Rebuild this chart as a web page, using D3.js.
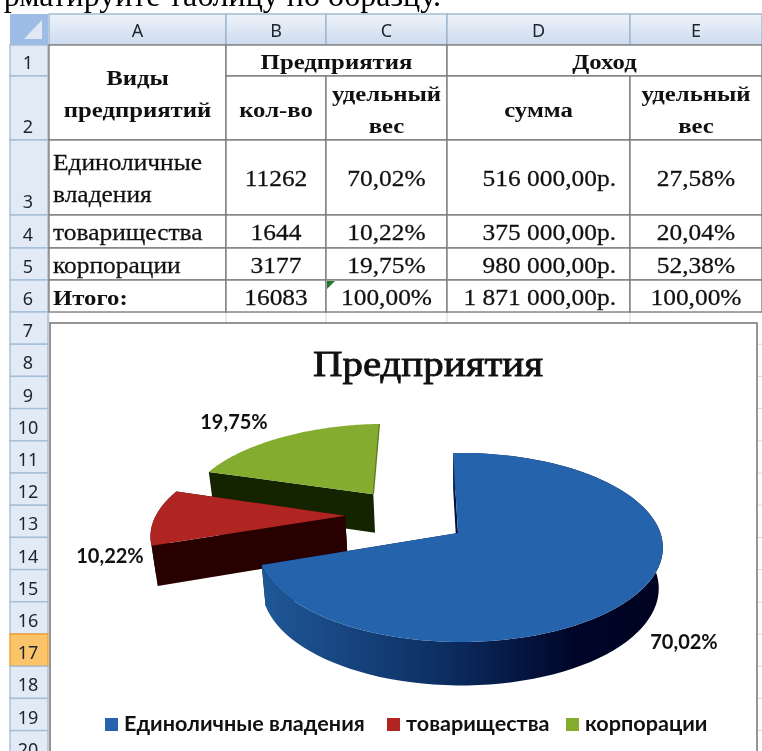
<!DOCTYPE html>
<html>
<head>
<meta charset="utf-8">
<style>
  html, body { margin: 0; padding: 0; background: #fff; overflow: hidden; }
  svg { display: block; filter: blur(0.4px); }
</style>
</head>
<body>
<div id="chart"></div>
<script src="https://cdnjs.cloudflare.com/ajax/libs/d3/7.8.5/d3.min.js"></script>
<script>
// table content
var columns = ["A", "B", "C", "D", "E"];
var rowNumbers = [1, 2, 3, 4, 5, 6, 7, 8, 9, 10, 11, 12, 13, 14, 15, 16, 17, 18, 19, 20];
var kinds = ["Единоличные владения", "товарищества", "корпорации"];
var counts = [11262, 1644, 3177];
var countShares = ["70,02%", "10,22%", "19,75%"];
var incomes = ["516 000,00р.", "375 000,00р.", "980 000,00р."];
var incomeShares = ["27,58%", "20,04%", "52,38%"];
var totals = ["Итого:", "16083", "100,00%", "1 871 000,00р.", "100,00%"];
var chartTitle = "Предприятия";
var colors = ["#2563ad", "#b02521", "#84ad30"];
var wallColors = ["#0d2f62", "#280000", "#152400"];

var width = 762, height = 751;
var serif = "'Liberation Serif', serif";
var headerFont = "'Noto Sans', sans-serif";
var chartFont = "Lato, 'Open Sans', sans-serif";

var svg = d3.select("#chart").append("svg")
    .attr("width", width)
    .attr("height", height);

var defs = svg.append("defs");

// heading gradient for column letters
var headGrad = defs.append("linearGradient").attr("id", "headGrad")
    .attr("x1", 0).attr("y1", 0).attr("x2", 0).attr("y2", 1);
headGrad.append("stop").attr("offset", "0%").attr("stop-color", "#eef3fa");
headGrad.append("stop").attr("offset", "100%").attr("stop-color", "#cddbee");

// outer wall of the big slice goes dark from left to right
var wallGrad = defs.append("linearGradient").attr("id", "wallGrad")
    .attr("gradientUnits", "userSpaceOnUse")
    .attr("x1", 265).attr("y1", 0).attr("x2", 663).attr("y2", 0);
wallGrad.append("stop").attr("offset", "0%").attr("stop-color", "#1f5796");
wallGrad.append("stop").attr("offset", "45%").attr("stop-color", "#0c2e62");
wallGrad.append("stop").attr("offset", "78%").attr("stop-color", "#000528");
wallGrad.append("stop").attr("offset", "100%").attr("stop-color", "#000320");

// text cut by the top edge of the screenshot
svg.append("text")
    .attr("x", 441).attr("y", 6)
    .attr("text-anchor", "end")
    .style("font-family", serif)
    .style("font-size", "32px")
    .text("рматируйте таблицу по образцу.");

// ----------------
// Sheet grid
// ----------------
var colX = d3.scaleOrdinal().domain(columns).range([49, 226, 326, 447, 630]);
var colEnd = d3.scaleOrdinal().domain(columns).range([226, 326, 447, 630, 762]);
var rowTops = [45, 76, 140, 215, 248, 280];
var rowY = d3.scaleLinear().domain([7, 20]).range([312, 312 + 32.2 * 13]);
function rowTop(n) { return n <= 6 ? rowTops[n - 1] : rowY(n); }
function rowBottom(n) { return n < 6 ? rowTops[n] : (n === 6 ? 312 : rowY(n + 1)); }

var grid = svg.append("g");

// faint gridlines in the empty rows
columns.forEach(function(c) {
    grid.append("line")
        .attr("x1", colX(c)).attr("x2", colX(c))
        .attr("y1", 312).attr("y2", 324)
        .attr("stroke", "#d0d7e5");
});
rowNumbers.filter(function(n) { return n >= 7; }).forEach(function(n) {
    grid.append("line")
        .attr("x1", 758).attr("x2", 762)
        .attr("y1", rowTop(n)).attr("y2", rowTop(n))
        .attr("stroke", "#d0d7e5");
});

// column letters
grid.append("rect").attr("x", 10).attr("y", 14).attr("width", 38).attr("height", 31)
    .attr("fill", "#9dbde6");
grid.append("path").attr("d", "M42 20L42 39L24 39Z").attr("fill", "#dfe8f4");

var colHeads = grid.selectAll(".colhead").data(columns).enter().append("g");
colHeads.append("rect")
    .attr("x", function(d) { return colX(d); })
    .attr("y", 14)
    .attr("width", function(d) { return colEnd(d) - colX(d); })
    .attr("height", 31)
    .attr("fill", "url(#headGrad)")
    .attr("stroke", "#9eb6ce")
    .attr("stroke-width", 1.4);
colHeads.append("text")
    .attr("x", function(d) { return (colX(d) + colEnd(d)) / 2; })
    .attr("y", 37)
    .attr("text-anchor", "middle")
    .style("font-family", headerFont)
    .style("font-size", "18px")
    .attr("fill", "#1c2430")
    .text(function(d) { return d; });

// row numbers
var rowHeads = grid.selectAll(".rowhead").data(rowNumbers).enter().append("g");
rowHeads.append("rect")
    .attr("x", 10)
    .attr("y", rowTop)
    .attr("width", 38)
    .attr("height", function(d) { return rowBottom(d) - rowTop(d); })
    .attr("fill", function(d) { return d === 17 ? "#fbc46a" : "#e2eaf6"; })
    .attr("stroke", function(d) { return d === 17 ? "#f0a030" : "#a5bdd6"; })
    .attr("stroke-width", 1.4);
rowHeads.append("text")
    .attr("x", 28)
    .attr("y", function(d) { return rowBottom(d) - 7; })
    .attr("text-anchor", "middle")
    .style("font-family", headerFont)
    .style("font-size", "18px")
    .attr("fill", "#1c2430")
    .text(function(d) { return d; });

// ----------------
// Table cells
// ----------------
var headerCells = [
    {c0: "A", c1: "A", r0: 1, r1: 2, lines: ["Виды", "предприятий"]},
    {c0: "B", c1: "C", r0: 1, r1: 1, lines: ["Предприятия"]},
    {c0: "D", c1: "E", r0: 1, r1: 1, lines: ["Доход"]},
    {c0: "B", c1: "B", r0: 2, r1: 2, lines: ["кол-во"]},
    {c0: "C", c1: "C", r0: 2, r1: 2, lines: ["удельный", "вес"]},
    {c0: "D", c1: "D", r0: 2, r1: 2, lines: ["сумма"]},
    {c0: "E", c1: "E", r0: 2, r1: 2, lines: ["удельный", "вес"]}
];

var cells = [];
headerCells.forEach(function(h) {
    cells.push({c0: h.c0, c1: h.c1, r0: h.r0, r1: h.r1, lines: h.lines, bold: true, anchor: "middle"});
});
kinds.forEach(function(k, i) {
    var r = i + 3;
    var lines = i === 0 ? k.split(" ") : [k];
    cells.push({c0: "A", c1: "A", r0: r, r1: r, lines: lines, anchor: "start"});
    cells.push({c0: "B", c1: "B", r0: r, r1: r, lines: [String(counts[i])], anchor: "middle"});
    cells.push({c0: "C", c1: "C", r0: r, r1: r, lines: [countShares[i]], anchor: "middle"});
    cells.push({c0: "D", c1: "D", r0: r, r1: r, lines: [incomes[i]], anchor: "end"});
    cells.push({c0: "E", c1: "E", r0: r, r1: r, lines: [incomeShares[i]], anchor: "middle"});
});
columns.forEach(function(c, i) {
    cells.push({
        c0: c, c1: c, r0: 6, r1: 6, lines: [totals[i]],
        bold: i === 0,
        anchor: i === 0 ? "start" : (c === "D" ? "end" : "middle")
    });
});

var lineGap = 32;
var cellGroups = svg.append("g").selectAll("g").data(cells).enter().append("g");
cellGroups.append("rect")
    .attr("x", function(d) { return colX(d.c0); })
    .attr("y", function(d) { return rowTop(d.r0); })
    .attr("width", function(d) { return colEnd(d.c1) - colX(d.c0); })
    .attr("height", function(d) { return rowBottom(d.r1) - rowTop(d.r0); })
    .attr("fill", "#fff")
    .attr("stroke", "#7f7f7f")
    .attr("stroke-width", 1.4);
cellGroups.each(function(d) {
    var x0 = colX(d.c0), x1 = colEnd(d.c1);
    var x = d.anchor === "start" ? x0 + 4 : (d.anchor === "end" ? x1 - 14 : (x0 + x1) / 2);
    var midY = (rowTop(d.r0) + rowBottom(d.r1)) / 2;
    // the screenshot is stretched sideways, so the cell text is too
    d3.select(this).selectAll("text").data(d.lines).enter().append("text")
        .attr("transform", function(t, i) {
            var y = midY + 8.5 + (i - (d.lines.length - 1) / 2) * lineGap;
            return "translate(" + x + "," + y + ") scale(" + (d.bold ? 1.18 : 1.13) + ",1)";
        })
        .attr("text-anchor", d.anchor)
        .style("font-family", serif)
        .style("font-size", d.bold ? "21px" : "22.5px")
        .style("font-weight", d.bold ? "bold" : "normal")
        .attr("fill", "#111")
        .attr("stroke", "#111")
        .attr("stroke-width", d.bold ? 0 : 0.25)
        .text(function(t) { return t; });
});

// green corner mark in C6
svg.append("path")
    .attr("d", d3.line()([[327, 281], [335, 281], [327, 289]]) + "Z")
    .attr("fill", "#1f7a2a");

// ----------------
// Chart area
// ----------------
svg.append("rect")
    .attr("x", 50).attr("y", 323)
    .attr("width", 707).attr("height", 450)
    .attr("fill", "#fff")
    .attr("stroke", "#8a8a8a")
    .attr("stroke-width", 1.8);

svg.append("text")
    .attr("transform", "translate(428,376) scale(1.17,1)")
    .attr("text-anchor", "middle")
    .style("font-family", serif)
    .style("font-size", "35px")
    .attr("fill", "#111")
    .attr("stroke", "#111")
    .attr("stroke-width", 0.8)
    .text(chartTitle);

// project a point of the pie plane (unit disc, v towards the viewer) on the screen
var cx = 458, cy = 533, rx = 200, ry = 92.3, persp = 0.153, perspX = 0.012, thickness = 40;
function project(u, v) {
    var w = 1 - persp * v - perspX * u;
    return [cx + rx * u / w, cy + ry * v / w];
}
function projectBottom(u, v) {
    var w = 1 - persp * v - perspX * u;
    var p = project(u, v);
    return [cx + (p[0] - cx) * 0.98, p[1] + thickness / Math.sqrt(w)];
}

// how far each slice is pulled out, in the units of the disc
var explode = [[0, 0], [-0.585, -0.195], [-0.455, -0.452]];

var pie = d3.pie().sort(null)
    .startAngle(-1.6 * Math.PI / 180)
    .endAngle((360 - 1.6) * Math.PI / 180);
var slices = pie(counts).map(function(s, i) {
    var edge = [], a;
    for (a = 0; a <= 90; a++) {
        var t = s.startAngle + (s.endAngle - s.startAngle) * a / 90;
        edge.push([explode[i][0] + Math.sin(t), explode[i][1] - Math.cos(t)]);
    }
    return {index: i, apex: explode[i], edge: edge};
});

var line = d3.line();
function onTop(q) { return project(q[0], q[1]); }
function onBottom(q) { return projectBottom(q[0], q[1]); }

// back slices first, the big one last
var order = [2, 1, 0];
var pieG = svg.append("g");
order.forEach(function(i) {
    var s = slices[i];
    var first = s.edge[0], last = s.edge[s.edge.length - 1];
    var outer = s.edge.map(onTop).concat(s.edge.slice().reverse().map(onBottom));
    var wallA = [s.apex, first].map(onTop).concat([first, s.apex].map(onBottom));
    var wallB = [s.apex, last].map(onTop).concat([last, s.apex].map(onBottom));

    pieG.append("path").attr("d", line(wallA) + "Z")
        .attr("fill", i === 0 ? "#00103c" : wallColors[i]);
    // the back slice only shows its front wall
    if (i !== 2) {
        pieG.append("path").attr("d", line(wallB) + "Z")
            .attr("fill", i === 0 ? "#00103c" : wallColors[i]);
        pieG.append("path").attr("d", line(outer) + "Z")
            .attr("fill", i === 0 ? "url(#wallGrad)" : wallColors[i]);
    }
    pieG.append("path").attr("d", line([s.apex].concat(s.edge).map(onTop)) + "Z")
        .attr("fill", colors[i]);
    if (i === 2) {
        pieG.append("path").attr("d", line([s.apex, last].map(onTop)))
            .attr("fill", "none")
            .attr("stroke", "#5f7f20")
            .attr("stroke-width", 1.4);
    }
});

// slice labels
var labelPos = [[684, 649], [110, 563], [234, 429]];
svg.append("g").selectAll("text").data(countShares).enter().append("text")
    .attr("x", function(d, i) { return labelPos[i][0]; })
    .attr("y", function(d, i) { return labelPos[i][1]; })
    .attr("text-anchor", "middle")
    .style("font-family", chartFont)
    .style("font-size", "20px")
    .style("font-weight", "bold")
    .attr("fill", "#111")
    .text(function(d) { return d; });

// legend
var legendX = [105, 387, 566];
var legend = svg.append("g").selectAll("g").data(kinds).enter().append("g")
    .attr("transform", function(d, i) { return "translate(" + legendX[i] + ",718)"; });
legend.append("rect")
    .attr("width", 13).attr("height", 13)
    .attr("fill", function(d, i) { return colors[i]; });
legend.append("text")
    .attr("x", 19).attr("y", 13)
    .style("font-family", chartFont)
    .style("font-size", "21.6px")
    .style("font-weight", "bold")
    .attr("fill", "#111")
    .text(function(d) { return d; });
</script>
</body>
</html>
